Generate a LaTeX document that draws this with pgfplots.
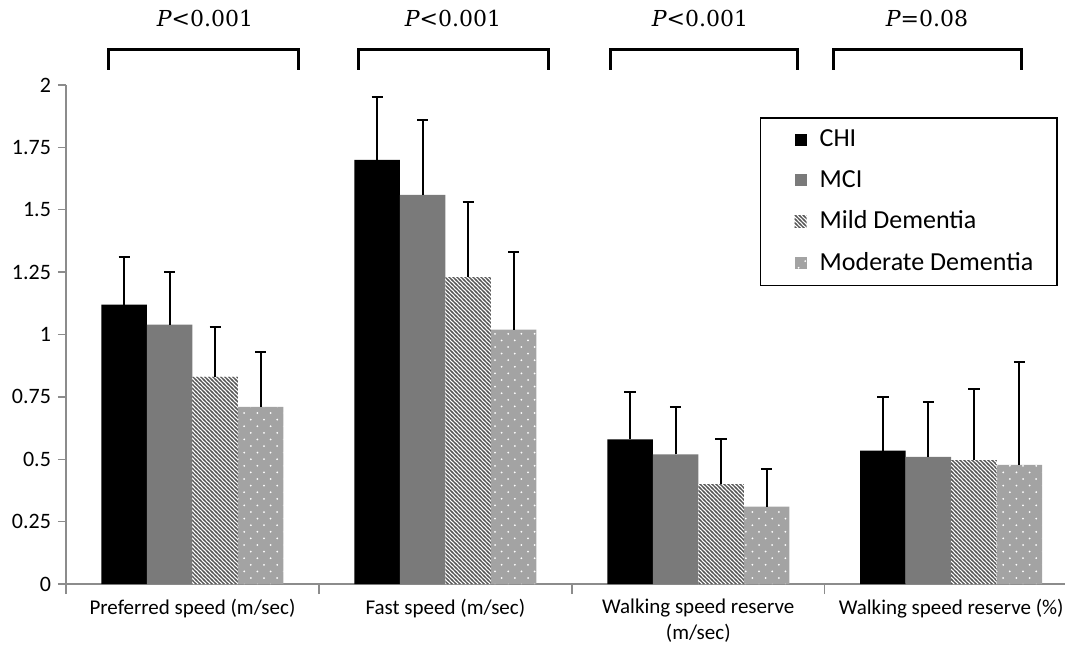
\documentclass[border=0pt]{standalone}
\usepackage{fontspec}
\setmainfont{Carlito}
\newfontfamily\serifP{DejaVu Serif}
\usepackage{pgfplots}
\pgfplotsset{compat=1.18}
\usetikzlibrary{patterns}

\pgfdeclarepatternformonly{mystripes}{\pgfqpoint{-1pt}{-1pt}}{\pgfqpoint{3pt}{3pt}}{\pgfqpoint{2pt}{2pt}}{%
  \pgfsetlinewidth{0.65pt}%
  \pgfpathmoveto{\pgfqpoint{-0.5pt}{2.5pt}}%
  \pgfpathlineto{\pgfqpoint{2.5pt}{-0.5pt}}%
  \pgfusepath{stroke}%
}
\pgfdeclarepatternformonly{mydots}{\pgfqpoint{-0.7pt}{-0.7pt}}{\pgfqpoint{4.1pt}{4.1pt}}{\pgfqpoint{6.6pt}{6.6pt}}{%
  \pgfpathcircle{\pgfqpoint{0pt}{0pt}}{0.5pt}%
  \pgfpathcircle{\pgfqpoint{3.3pt}{3.3pt}}{0.5pt}%
  \pgfusepath{fill}%
}

\definecolor{mcigray}{HTML}{7A7A7A}
\definecolor{modgray}{HTML}{A3A3A3}
\definecolor{stripegray}{HTML}{555555}
\definecolor{axgray}{HTML}{8C8C8C}

\pgfplotstableread{
x y e
0 1.12 0.19
1 1.70 0.25
2 0.58 0.19
3 0.535 0.215
}\chi
\pgfplotstableread{
x y e
0 1.04 0.21
1 1.56 0.30
2 0.52 0.19
3 0.51 0.22
}\mci
\pgfplotstableread{
x y e
0 0.83 0.20
1 1.23 0.30
2 0.40 0.18
3 0.497 0.283
}\mild
\pgfplotstableread{
x y e
0 0.71 0.22
1 1.02 0.31
2 0.31 0.15
3 0.477 0.413
}\moder

\begin{document}
\begin{tikzpicture}
\begin{axis}[
  scale only axis, width=499.5pt, height=249.5pt,
  ybar=0pt, bar width=22.75pt,
  xmin=-0.5, xmax=3.45, ymin=0, ymax=2,
  axis x line*=bottom, axis y line*=left,
  axis line style={-, draw=axgray, line width=0.8pt},
  xtick={0,1,2,3},
  xticklabels={Preferred speed (m/sec),Fast speed (m/sec),Walking speed reserve\\(m/sec),Walking speed reserve (\%)},
  minor xtick={-0.5,0.5,1.5,2.5},
  major x tick style={draw=none},
  ytick={0,0.25,0.5,0.75,1,1.25,1.5,1.75,2},
  yticklabels={0,0.25,0.5,0.75,1,1.25,1.5,1.75,2},
  tick align=outside,
  tick style={draw=axgray, line width=0.7pt},
  major tick length=4pt, minor tick length=5pt,
  xticklabel style={align=center, font=\fontsize{10.5}{13}\selectfont},
  yticklabel style={font=\fontsize{11}{12}\selectfont},
  clip=false,
  legend cell align=left,
  legend style={at={(0.993,0.936)}, anchor=north east, draw=black, line width=0.8pt,
    font=\fontsize{13}{15}\selectfont, inner xsep=10pt, inner ysep=4pt, row sep=6.3pt, column sep=4.5pt},
  legend image code/.code={\path (0pt,0pt); \path[#1, draw=none, line width=0pt] (7pt,-3pt) rectangle (13pt,3pt);},
  error bars/y dir=plus, error bars/y explicit,
  error bars/error bar style={line width=1pt, black, solid},
  error bars/error mark options={rotate=90, line width=1pt, mark size=2.8pt, black},
]
\addplot[fill=black, draw=none] table[x=x, y=y, y error=e] {\chi};
\addplot[fill=mcigray, draw=none] table[x=x, y=y, y error=e] {\mci};
\addplot[fill=white, draw=none, postaction={pattern=mystripes, pattern color=stripegray}] table[x=x, y=y, y error=e] {\mild};
\addplot[fill=modgray, draw=none, postaction={pattern=mydots, pattern color=white}] table[x=x, y=y, y error=e] {\moder};
\legend{CHI,MCI,Mild Dementia,Moderate Dementia}
\end{axis}
\begin{scope}[line width=1.5pt]
\draw (21pt,257pt) -- (21pt,267pt) -- (116pt,267pt) -- (116pt,257pt);
\draw (146pt,257pt) -- (146pt,267pt) -- (241pt,267pt) -- (241pt,257pt);
\draw (272pt,257pt) -- (272pt,267pt) -- (365.5pt,267pt) -- (365.5pt,257pt);
\draw (383.5pt,257pt) -- (383.5pt,267pt) -- (477.5pt,267pt) -- (477.5pt,257pt);
\end{scope}
\begin{scope}[font=\fontsize{11}{13}\selectfont\serifP]
\node at (69.5pt,283pt) {{\itshape P}<0.001};
\node at (193.5pt,283pt) {{\itshape P}<0.001};
\node at (317pt,283pt) {{\itshape P}<0.001};
\node at (430.5pt,283pt) {{\itshape P}=0.08};
\end{scope}
\pgfresetboundingbox
\path[use as bounding box] (-33pt,-30pt) rectangle (500pt,292pt);
\end{tikzpicture}
\end{document}
